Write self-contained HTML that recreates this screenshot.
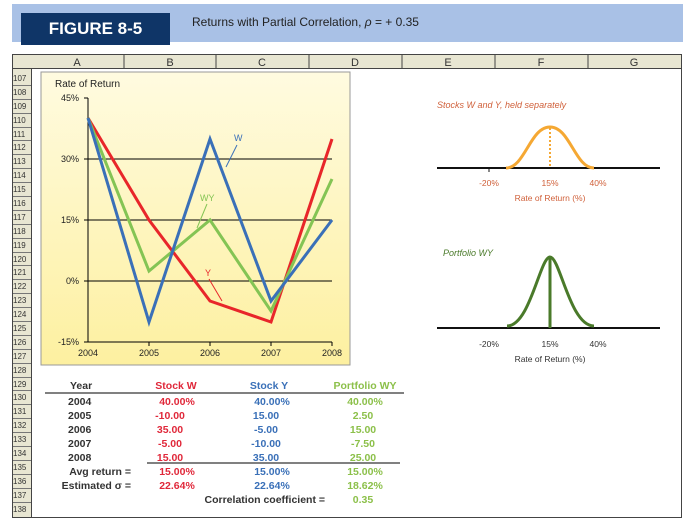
<!DOCTYPE html><html><head><style>
body{margin:0;background:#fff;width:694px;height:527px;position:relative;overflow:hidden;font-family:"Liberation Sans",sans-serif}
.a{position:absolute}
</style></head><body>
<div class="a" style="left:12px;top:4px;width:671px;height:38px;background:#a9c1e6"></div>
<div class="a" style="left:21px;top:13px;width:149px;height:32px;background:#0f3567;color:#fff;font-weight:bold;font-size:17px;line-height:32px;text-align:center">FIGURE 8-5</div>
<div class="a" style="left:192px;top:15px;font-size:12px;color:#222">Returns with Partial Correlation, <i>ρ</i> = + 0.35</div>
<svg class="a" style="left:0;top:0" width="694" height="527" font-family="Liberation Sans,sans-serif">
<defs><linearGradient id="g" x1="0" y1="0" x2="0" y2="1"><stop offset="0" stop-color="#fffbe0"/><stop offset="1" stop-color="#fdf0a0"/></linearGradient></defs>
<rect x="12.5" y="54.5" width="669" height="463" fill="#fff" stroke="#444"/>
<rect x="12.5" y="54.5" width="669" height="14" fill="#e8e6d2" stroke="#444"/>
<rect x="12.5" y="68.5" width="19" height="449" fill="#e8e6d2" stroke="#444"/>
<g stroke="#444"><line x1="124" y1="55" x2="124" y2="68"/><line x1="216" y1="55" x2="216" y2="68"/><line x1="309" y1="55" x2="309" y2="68"/><line x1="402" y1="55" x2="402" y2="68"/><line x1="495" y1="55" x2="495" y2="68"/><line x1="588" y1="55" x2="588" y2="68"/></g>
<g font-size="11" fill="#333" text-anchor="middle"><text x="77" y="66">A</text><text x="170" y="66">B</text><text x="262" y="66">C</text><text x="355" y="66">D</text><text x="448" y="66">E</text><text x="541" y="66">F</text><text x="634" y="66">G</text></g>
<g font-size="8" fill="#333" stroke="#666" stroke-width="0.6">
<script>/* none */</script>
</g>
<g id="rows" font-size="8.5" fill="#333"></g>
<rect x="41" y="72" width="309" height="293" fill="url(#g)" stroke="#999"/>
<text x="55" y="87" font-size="10" fill="#222">Rate of Return</text>
<g font-size="9" fill="#222" text-anchor="end"><text x="79" y="101">45%</text><text x="79" y="162">30%</text><text x="79" y="223">15%</text><text x="79" y="284">0%</text><text x="79" y="345">-15%</text></g>
<g stroke="#000" stroke-width="1"><line x1="88" y1="98" x2="88" y2="342"/><line x1="84" y1="98" x2="88" y2="98"/><line x1="84" y1="342" x2="332" y2="342"/><line x1="84" y1="159" x2="332" y2="159"/><line x1="84" y1="220" x2="332" y2="220"/><line x1="84" y1="281" x2="332" y2="281"/>
<line x1="149" y1="342" x2="149" y2="346"/><line x1="210" y1="342" x2="210" y2="346"/><line x1="271" y1="342" x2="271" y2="346"/><line x1="332" y1="342" x2="332" y2="346"/></g>
<g font-size="9" fill="#222" text-anchor="middle"><text x="88" y="356">2004</text><text x="149" y="356">2005</text><text x="210" y="356">2006</text><text x="271" y="356">2007</text><text x="332" y="356">2008</text></g>
<g fill="none" stroke-width="3" stroke-linejoin="miter">
<polyline points="88,118 149,220 210,301 271,322 332,139" stroke="#e8262a"/>
<polyline points="88,118 149,271 210,220 271,311 332,179" stroke="#84c454"/>
<polyline points="88,118 149,322 210,139 271,301 332,220" stroke="#3a70b8"/>
</g>
<g stroke="#3a70b8" stroke-width="1"><line x1="237" y1="145" x2="226" y2="167"/></g><text x="234" y="141" font-size="9" fill="#3a70b8">W</text>
<text x="200" y="201" font-size="9" fill="#84c454">WY</text><line x1="207" y1="204" x2="197" y2="228" stroke="#84c454"/>
<text x="205" y="276" font-size="9" fill="#e8262a">Y</text><line x1="209" y1="279" x2="222" y2="301" stroke="#e8262a"/>
<text x="437" y="108" font-size="9" font-style="italic" fill="#d0603a">Stocks W and Y, held separately</text>
<line x1="437" y1="168" x2="660" y2="168" stroke="#111" stroke-width="2"/>
<path d="M506,168 C525,168 530,127 550,127 C570,127 575,168 594,168" fill="none" stroke="#f5a833" stroke-width="3"/>
<line x1="550" y1="128" x2="550" y2="168" stroke="#f5a833" stroke-width="2" stroke-dasharray="2,2"/>
<g font-size="8.5" fill="#d0603a" text-anchor="middle"><text x="489" y="186">-20%</text><text x="550" y="186">15%</text><text x="598" y="186">40%</text><text x="550" y="201">Rate of Return (%)</text></g>
<line x1="489" y1="168" x2="489" y2="172" stroke="#111"/>
<text x="443" y="256" font-size="9" font-style="italic" fill="#4a7a2a">Portfolio WY</text>
<line x1="437" y1="328" x2="660" y2="328" stroke="#111" stroke-width="2"/>
<path d="M507,326 C530,326 540,257 550,257 C560,257 570,326 594,326" fill="none" stroke="#4a7a2a" stroke-width="3"/>
<line x1="550" y1="258" x2="550" y2="328" stroke="#4a7a2a" stroke-width="3"/>
<g font-size="8.5" fill="#333" text-anchor="middle"><text x="489" y="347">-20%</text><text x="550" y="347">15%</text><text x="598" y="347">40%</text><text x="550" y="362">Rate of Return (%)</text></g>
<line x1="45" y1="393" x2="404" y2="393" stroke="#000"/>
<line x1="147" y1="463" x2="400" y2="463" stroke="#000"/>
<g font-size="10.5" font-weight="bold">
<text x="70" y="389" fill="#333">Year</text>
<g fill="#333"><text x="68" y="405">2004</text><text x="68" y="419">2005</text><text x="68" y="433">2006</text><text x="68" y="447">2007</text><text x="68" y="461">2008</text></g>
<g fill="#333" text-anchor="end"><text x="131" y="475">Avg return =</text><text x="131" y="489">Estimated σ =</text><text x="325" y="503">Correlation coefficient =</text></g>
<g fill="#e0283a" text-anchor="middle"><text x="176" y="389">Stock W</text><text x="177" y="405">40.00%</text><text x="170" y="419">-10.00</text><text x="170" y="433">35.00</text><text x="170" y="447">-5.00</text><text x="170" y="461">15.00</text><text x="177" y="475">15.00%</text><text x="177" y="489">22.64%</text></g>
<g fill="#3a70b8" text-anchor="middle"><text x="269" y="389">Stock Y</text><text x="272" y="405">40.00%</text><text x="266" y="419">15.00</text><text x="266" y="433">-5.00</text><text x="266" y="447">-10.00</text><text x="266" y="461">35.00</text><text x="272" y="475">15.00%</text><text x="272" y="489">22.64%</text></g>
<g fill="#8cc04a" text-anchor="middle"><text x="365" y="389">Portfolio WY</text><text x="365" y="405">40.00%</text><text x="363" y="419">2.50</text><text x="363" y="433">15.00</text><text x="363" y="447">-7.50</text><text x="363" y="461">25.00</text><text x="365" y="475">15.00%</text><text x="365" y="489">18.62%</text><text x="363" y="503">0.35</text></g>
</g>
</svg>
<div class="a" id="rh" style="left:13px;top:72px;width:18px;font-size:8px;color:#333;font-family:'Liberation Sans',sans-serif"></div>
<div class="a" style="left:13px;top:72px;width:18px">
<div style="font-size:8px;line-height:13px;color:#333">
<div style="height:13.9px;border-bottom:1px solid #777;box-sizing:border-box">107</div><div style="height:13.9px;border-bottom:1px solid #777;box-sizing:border-box">108</div><div style="height:13.9px;border-bottom:1px solid #777;box-sizing:border-box">109</div><div style="height:13.9px;border-bottom:1px solid #777;box-sizing:border-box">110</div><div style="height:13.9px;border-bottom:1px solid #777;box-sizing:border-box">111</div><div style="height:13.9px;border-bottom:1px solid #777;box-sizing:border-box">112</div><div style="height:13.9px;border-bottom:1px solid #777;box-sizing:border-box">113</div><div style="height:13.9px;border-bottom:1px solid #777;box-sizing:border-box">114</div><div style="height:13.9px;border-bottom:1px solid #777;box-sizing:border-box">115</div><div style="height:13.9px;border-bottom:1px solid #777;box-sizing:border-box">116</div><div style="height:13.9px;border-bottom:1px solid #777;box-sizing:border-box">117</div><div style="height:13.9px;border-bottom:1px solid #777;box-sizing:border-box">118</div><div style="height:13.9px;border-bottom:1px solid #777;box-sizing:border-box">119</div><div style="height:13.9px;border-bottom:1px solid #777;box-sizing:border-box">120</div><div style="height:13.9px;border-bottom:1px solid #777;box-sizing:border-box">121</div><div style="height:13.9px;border-bottom:1px solid #777;box-sizing:border-box">122</div><div style="height:13.9px;border-bottom:1px solid #777;box-sizing:border-box">123</div><div style="height:13.9px;border-bottom:1px solid #777;box-sizing:border-box">124</div><div style="height:13.9px;border-bottom:1px solid #777;box-sizing:border-box">125</div><div style="height:13.9px;border-bottom:1px solid #777;box-sizing:border-box">126</div><div style="height:13.9px;border-bottom:1px solid #777;box-sizing:border-box">127</div><div style="height:13.9px;border-bottom:1px solid #777;box-sizing:border-box">128</div><div style="height:13.9px;border-bottom:1px solid #777;box-sizing:border-box">129</div><div style="height:13.9px;border-bottom:1px solid #777;box-sizing:border-box">130</div><div style="height:13.9px;border-bottom:1px solid #777;box-sizing:border-box">131</div><div style="height:13.9px;border-bottom:1px solid #777;box-sizing:border-box">132</div><div style="height:13.9px;border-bottom:1px solid #777;box-sizing:border-box">133</div><div style="height:13.9px;border-bottom:1px solid #777;box-sizing:border-box">134</div><div style="height:13.9px;border-bottom:1px solid #777;box-sizing:border-box">135</div><div style="height:13.9px;border-bottom:1px solid #777;box-sizing:border-box">136</div><div style="height:13.9px;border-bottom:1px solid #777;box-sizing:border-box">137</div><div style="height:13.9px;box-sizing:border-box">138</div>
</div></div>
</body></html>
